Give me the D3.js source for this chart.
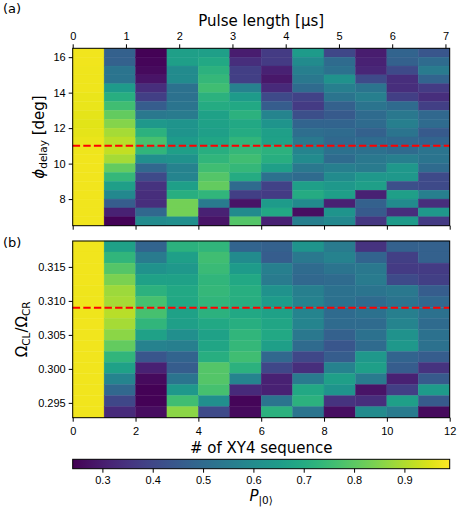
<!DOCTYPE html>
<html>
<head>
<meta charset="utf-8">
<script src="https://cdn.jsdelivr.net/npm/d3@7"></script>
<style>
    body { margin: 0; background: #fff; }
    svg { font-family: "DejaVu Sans", sans-serif; }
    .axis text { font-size: 11px; fill: #000; }
    .axis line { stroke: #000; }
    .axis path { display: none; }
    .label { font-size: 15px; fill: #000; }
</style>
</head>
<body>
<svg id="chart" width="469" height="507"></svg>
<script>
// x: number of XY4 sequences (column left edges), pulse length per sequence in µs
var seqIndex = [0, 1, 2, 3, 4, 5, 6, 7, 8, 9, 10, 11];
var usPerSeq = 0.59;

// row centres, listed top to bottom
var phiDelay = [16.25, 15.75, 15.25, 14.75, 14.25, 13.75, 13.25, 12.75, 12.25, 11.75,
                11.25, 10.75, 10.25, 9.75, 9.25, 8.75, 8.25, 7.75, 7.25, 6.75];
var ratioCL = [0.31800, 0.31638, 0.31475, 0.31313, 0.31150, 0.30988, 0.30825, 0.30663,
               0.30500, 0.30338, 0.30175, 0.30013, 0.29850, 0.29688, 0.29525, 0.29363];

// P|0> per column (one array per sequence count), top row first
var phiCols = [
    [0.975, 0.975, 0.97, 0.97, 0.97, 0.965, 0.965, 0.96, 0.955, 0.96, 0.965, 0.97, 0.975, 0.975, 0.975, 0.975, 0.975, 0.975, 0.975, 0.975],
    [0.47, 0.47, 0.53, 0.53, 0.65, 0.71, 0.76, 0.81, 0.85, 0.89, 0.91, 0.92, 0.89, 0.81, 0.74, 0.66, 0.59, 0.46, 0.31, 0.245],
    [0.245, 0.25, 0.26, 0.28, 0.34, 0.38, 0.46, 0.54, 0.64, 0.72, 0.77, 0.73, 0.61, 0.49, 0.41, 0.35, 0.34, 0.34, 0.49, 0.60],
    [0.66, 0.66, 0.60, 0.60, 0.52, 0.52, 0.53, 0.55, 0.63, 0.63, 0.65, 0.66, 0.62, 0.57, 0.58, 0.66, 0.71, 0.83, 0.83, 0.61],
    [0.66, 0.69, 0.72, 0.74, 0.76, 0.72, 0.70, 0.67, 0.67, 0.66, 0.68, 0.71, 0.73, 0.76, 0.79, 0.81, 0.73, 0.55, 0.31, 0.28],
    [0.30, 0.34, 0.38, 0.38, 0.57, 0.65, 0.69, 0.72, 0.69, 0.70, 0.73, 0.74, 0.76, 0.74, 0.70, 0.50, 0.38, 0.28, 0.60, 0.79],
    [0.37, 0.37, 0.31, 0.29, 0.33, 0.41, 0.46, 0.58, 0.63, 0.66, 0.67, 0.72, 0.71, 0.66, 0.52, 0.39, 0.37, 0.65, 0.69, 0.31],
    [0.65, 0.60, 0.56, 0.54, 0.50, 0.39, 0.37, 0.42, 0.48, 0.51, 0.54, 0.58, 0.60, 0.54, 0.50, 0.66, 0.70, 0.60, 0.27, 0.56],
    [0.40, 0.50, 0.52, 0.62, 0.56, 0.53, 0.47, 0.45, 0.48, 0.50, 0.49, 0.52, 0.50, 0.56, 0.60, 0.64, 0.66, 0.31, 0.63, 0.59],
    [0.30, 0.31, 0.32, 0.41, 0.53, 0.56, 0.53, 0.50, 0.50, 0.47, 0.50, 0.52, 0.54, 0.55, 0.64, 0.66, 0.31, 0.47, 0.45, 0.36],
    [0.48, 0.47, 0.41, 0.34, 0.34, 0.38, 0.50, 0.54, 0.56, 0.53, 0.49, 0.50, 0.56, 0.64, 0.64, 0.42, 0.66, 0.60, 0.34, 0.65],
    [0.44, 0.50, 0.55, 0.48, 0.37, 0.34, 0.38, 0.49, 0.50, 0.45, 0.48, 0.53, 0.53, 0.50, 0.41, 0.41, 0.56, 0.34, 0.64, 0.37]
];

var ratioCols = [
    [0.975, 0.975, 0.975, 0.975, 0.97, 0.97, 0.97, 0.975, 0.975, 0.975, 0.975, 0.975, 0.975, 0.975, 0.975, 0.975],
    [0.67, 0.73, 0.79, 0.84, 0.88, 0.89, 0.91, 0.89, 0.86, 0.81, 0.73, 0.67, 0.58, 0.49, 0.40, 0.33],
    [0.48, 0.55, 0.62, 0.67, 0.72, 0.77, 0.77, 0.73, 0.67, 0.57, 0.44, 0.31, 0.26, 0.245, 0.245, 0.265],
    [0.72, 0.66, 0.64, 0.67, 0.69, 0.69, 0.67, 0.66, 0.61, 0.56, 0.48, 0.46, 0.53, 0.64, 0.76, 0.86],
    [0.73, 0.76, 0.75, 0.73, 0.74, 0.73, 0.72, 0.69, 0.67, 0.68, 0.71, 0.79, 0.79, 0.77, 0.61, 0.41],
    [0.48, 0.60, 0.65, 0.69, 0.71, 0.71, 0.69, 0.71, 0.73, 0.74, 0.76, 0.72, 0.58, 0.33, 0.25, 0.26],
    [0.47, 0.46, 0.56, 0.55, 0.62, 0.65, 0.67, 0.68, 0.69, 0.66, 0.49, 0.40, 0.31, 0.31, 0.53, 0.72],
    [0.63, 0.54, 0.50, 0.49, 0.56, 0.57, 0.58, 0.58, 0.54, 0.50, 0.40, 0.34, 0.55, 0.69, 0.72, 0.53],
    [0.55, 0.57, 0.53, 0.50, 0.52, 0.52, 0.50, 0.50, 0.47, 0.44, 0.46, 0.57, 0.66, 0.63, 0.35, 0.27],
    [0.35, 0.48, 0.54, 0.55, 0.53, 0.50, 0.52, 0.50, 0.52, 0.50, 0.64, 0.66, 0.55, 0.28, 0.34, 0.60],
    [0.47, 0.38, 0.37, 0.41, 0.54, 0.53, 0.56, 0.58, 0.62, 0.64, 0.48, 0.46, 0.31, 0.38, 0.66, 0.55],
    [0.47, 0.47, 0.37, 0.38, 0.46, 0.49, 0.52, 0.50, 0.52, 0.52, 0.46, 0.35, 0.45, 0.65, 0.45, 0.26]
];

var phiMark = 11;
var ratioMark = 0.309;

var seqTicks = [0, 2, 4, 6, 8, 10, 12];
var pulseTicks = [0, 1, 2, 3, 4, 5, 6, 7];
var phiTicks = [8, 10, 12, 14, 16];
var ratioTicks = [0.295, 0.300, 0.305, 0.310, 0.315];
var cbarTicks = [0.3, 0.4, 0.5, 0.6, 0.7, 0.8, 0.9];
var pRange = [0.241, 0.99];

var svg = d3.select("#chart");

var left = 72.7, right = 449.7;
var topPanel = [48.3, 225.7], botPanel = [241, 417.7], cbarBox = [459.3, 468.7];

var x = d3.scaleLinear().domain([0, seqIndex.length]).range([left, right]);
var xPulse = d3.scaleLinear().domain([0, seqIndex.length * usPerSeq]).range([left, right]);
var color = d3.scaleSequential(d3.interpolateViridis).domain(pRange);

function half(arr) { return Math.abs(arr[0] - arr[1]) / 2; }

var yPhi = d3.scaleLinear()
    .domain([d3.min(phiDelay) - half(phiDelay), d3.max(phiDelay) + half(phiDelay)])
    .range([topPanel[1], topPanel[0]]);
var yRatio = d3.scaleLinear()
    .domain([d3.min(ratioCL) - half(ratioCL), d3.max(ratioCL) + half(ratioCL)])
    .range([botPanel[1], botPanel[0]]);

function heatmap(g, cols, rows, y, mark) {
    var h = half(rows);
    var cells = [];
    cols.forEach(function(col, c) {
        col.forEach(function(v, r) {
            cells.push({seq: seqIndex[c], row: rows[r], v: v});
        });
    });

    g.append("g").selectAll("rect")
        .data(cells)
        .enter().append("rect")
        .attr("x", function(d) { return x(d.seq); })
        .attr("width", function(d) { return x(d.seq + 1) - x(d.seq); })
        .attr("y", function(d) { return y(d.row + h); })
        .attr("height", function(d) { return y(d.row - h) - y(d.row + h); })
        .attr("fill", function(d) { return color(d.v); })
        .attr("stroke", function(d) { return color(d.v); })
        .attr("stroke-width", 0.4);

    g.append("line")
        .attr("x1", x(0)).attr("x2", x(seqIndex.length))
        .attr("y1", y(mark)).attr("y2", y(mark))
        .attr("stroke", "red")
        .attr("stroke-width", 2)
        .attr("stroke-dasharray", "7.4,3.2");

    g.append("rect")
        .attr("x", left).attr("y", y.range()[1])
        .attr("width", right - left)
        .attr("height", y.range()[0] - y.range()[1])
        .attr("fill", "none")
        .attr("stroke", "#000")
        .attr("stroke-width", 1);
}

// (a) phase delay vs pulse length
var ga = svg.append("g");
heatmap(ga, phiCols, phiDelay, yPhi, phiMark);

ga.append("g").attr("class", "axis")
    .attr("transform", "translate(" + left + ",0)")
    .call(d3.axisLeft(yPhi).tickValues(phiTicks).tickSize(4).tickPadding(3));

ga.append("g").attr("class", "axis")
    .attr("transform", "translate(0," + topPanel[0] + ")")
    .call(d3.axisTop(xPulse).tickValues(pulseTicks).tickSize(4).tickPadding(4));

ga.append("g").attr("class", "axis")
    .attr("transform", "translate(0," + topPanel[1] + ")")
    .call(d3.axisBottom(x).tickValues(seqTicks).tickSize(4).tickFormat(""));

ga.append("text").attr("class", "label")
    .attr("x", (left + right) / 2).attr("y", 26)
    .attr("text-anchor", "middle")
    .text("Pulse length [μs]");

var phiLabel = ga.append("text").attr("class", "label")
    .attr("text-anchor", "middle")
    .attr("transform", "translate(43.5," + (topPanel[0] + topPanel[1]) / 2 + ") rotate(-90)");
phiLabel.append("tspan").attr("font-style", "italic").text("ϕ");
phiLabel.append("tspan").attr("font-size", "10.5px").attr("dy", 3).text("delay");
phiLabel.append("tspan").attr("dy", -3).text(" [deg]");

svg.append("text").attr("x", 3).attr("y", 13).attr("font-size", "13px").text("(a)");

// (b) amplitude ratio vs number of XY4 sequences
var gb = svg.append("g");
heatmap(gb, ratioCols, ratioCL, yRatio, ratioMark);

gb.append("g").attr("class", "axis")
    .attr("transform", "translate(" + left + ",0)")
    .call(d3.axisLeft(yRatio).tickValues(ratioTicks).tickSize(4).tickPadding(3).tickFormat(d3.format(".3f")));

gb.append("g").attr("class", "axis")
    .attr("transform", "translate(0," + botPanel[1] + ")")
    .call(d3.axisBottom(x).tickValues(seqTicks).tickSize(4).tickPadding(6));

gb.append("text").attr("class", "label")
    .attr("x", (left + right) / 2).attr("y", 453)
    .attr("text-anchor", "middle")
    .text("# of XY4 sequence");

var ratioLabel = gb.append("text").attr("class", "label")
    .attr("text-anchor", "middle")
    .attr("transform", "translate(27," + (botPanel[0] + botPanel[1]) / 2 + ") rotate(-90)");
ratioLabel.append("tspan").text("Ω");
ratioLabel.append("tspan").attr("font-size", "10.5px").attr("dy", 3).text("CL");
ratioLabel.append("tspan").attr("dy", -3).text("/Ω");
ratioLabel.append("tspan").attr("font-size", "10.5px").attr("dy", 3).text("CR");

svg.append("text").attr("x", 3).attr("y", 247).attr("font-size", "13px").text("(b)");

// colorbar
var cx = d3.scaleLinear().domain(pRange).range([left, right]);
var grad = svg.append("defs").append("linearGradient").attr("id", "viridis-bar");
grad.selectAll("stop")
    .data(d3.range(0, 1.0001, 0.05))
    .enter().append("stop")
    .attr("offset", function(t) { return t; })
    .attr("stop-color", function(t) { return d3.interpolateViridis(t); });

svg.append("rect")
    .attr("x", left).attr("y", cbarBox[0])
    .attr("width", right - left).attr("height", cbarBox[1] - cbarBox[0])
    .attr("fill", "url(#viridis-bar)")
    .attr("stroke", "#000").attr("stroke-width", 1);

svg.append("g").attr("class", "axis")
    .attr("transform", "translate(0," + cbarBox[1] + ")")
    .call(d3.axisBottom(cx).tickValues(cbarTicks).tickSize(4).tickPadding(4).tickFormat(d3.format(".1f")));

var pLabel = svg.append("text").attr("class", "label")
    .attr("x", (left + right) / 2).attr("y", 501)
    .attr("text-anchor", "middle");
pLabel.append("tspan").attr("font-style", "italic").text("P");
pLabel.append("tspan").attr("font-size", "10.5px").attr("dy", 3).text("|0⟩");
</script>
</body>
</html>
